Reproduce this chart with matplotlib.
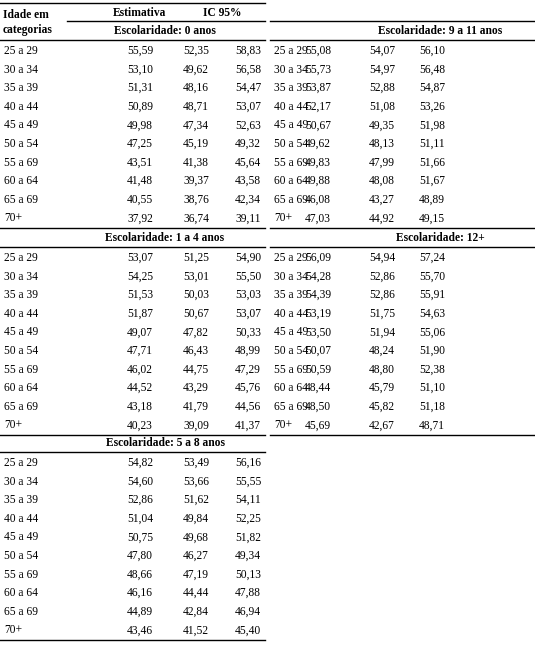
import matplotlib
matplotlib.use("Agg")
import matplotlib.pyplot as plt

idades = ["25 a 29", "30 a 34", "35 a 39", "40 a 44", "45 a 49",
          "50 a 54", "55 a 69", "60 a 64", "65 a 69", "70+"]

grupos = ["Escolaridade: 0 anos", "Escolaridade: 1 a 4 anos", "Escolaridade: 5 a 8 anos",
          "Escolaridade: 9 a 11 anos", "Escolaridade: 12+"]

est = [
    ["55,59", "53,10", "51,31", "50,89", "49,98", "47,25", "43,51", "41,48", "40,55", "37,92"],
    ["53,07", "54,25", "51,53", "51,87", "49,07", "47,71", "46,02", "44,52", "43,18", "40,23"],
    ["54,82", "54,60", "52,86", "51,04", "50,75", "47,80", "48,66", "46,16", "44,89", "43,46"],
    ["55,08", "55,73", "53,87", "52,17", "50,67", "49,62", "49,83", "49,88", "46,08", "47,03"],
    ["56,09", "54,28", "54,39", "53,19", "53,50", "50,07", "50,59", "48,44", "48,50", "45,69"],
]
ic_inf = [
    ["52,35", "49,62", "48,16", "48,71", "47,34", "45,19", "41,38", "39,37", "38,76", "36,74"],
    ["51,25", "53,01", "50,03", "50,67", "47,82", "46,43", "44,75", "43,29", "41,79", "39,09"],
    ["53,49", "53,66", "51,62", "49,84", "49,68", "46,27", "47,19", "44,44", "42,84", "41,52"],
    ["54,07", "54,97", "52,88", "51,08", "49,35", "48,13", "47,99", "48,08", "43,27", "44,92"],
    ["54,94", "52,86", "52,86", "51,75", "51,94", "48,24", "48,80", "45,79", "45,82", "42,67"],
]
ic_sup = [
    ["58,83", "56,58", "54,47", "53,07", "52,63", "49,32", "45,64", "43,58", "42,34", "39,11"],
    ["54,90", "55,50", "53,03", "53,07", "50,33", "48,99", "47,29", "45,76", "44,56", "41,37"],
    ["56,16", "55,55", "54,11", "52,25", "51,82", "49,34", "50,13", "47,88", "46,94", "45,40"],
    ["56,10", "56,48", "54,87", "53,26", "51,98", "51,11", "51,66", "51,67", "48,89", "49,15"],
    ["57,24", "55,70", "55,91", "54,63", "55,06", "51,90", "52,38", "51,10", "51,18", "48,71"],
]

# (x offset, y of section title, column centers) for each group
colunas_esq = (140, 196, 248)
colunas_dir = (318, 382, 432)
posicoes = [(0, 31, colunas_esq), (0, 238, colunas_esq), (0, 443, colunas_esq),
            (270, 31, colunas_dir), (270, 238, colunas_dir)]

plt.rcParams['font.family'] = ['Liberation Serif', 'DejaVu Serif']
fig = plt.figure(figsize=(5.35, 6.49), dpi=100)
ax = fig.add_axes([0, 0, 1, 1])
ax.set_xlim(0, 535)
ax.set_ylim(649, 0)
ax.axis("off")

fs = 8.3
lw = 1.0
passo = 18.6

# cabeçalho
ax.plot([0, 265], [3, 3], color="black", lw=lw)
ax.text(3, 15, "Idade em", fontsize=fs, fontweight="bold", va="center")
ax.text(3, 30, "categorias", fontsize=fs, fontweight="bold", va="center")
ax.text(140, 13, "Estimativa", fontsize=fs, fontweight="bold", ha="center", va="center")
ax.text(222, 13, "IC 95%", fontsize=fs, fontweight="bold", ha="center", va="center")
ax.plot([67, 265], [21, 21], color="black", lw=lw)
ax.plot([270, 535], [21, 21], color="black", lw=lw)

for g, (x0, yt, cols) in enumerate(posicoes):
    centro = 165 if x0 == 0 else 440
    ax.text(centro, yt, grupos[g], fontsize=fs, fontweight="bold", ha="center", va="center")
    ax.plot([x0, x0 + 265], [yt + 9, yt + 9], color="black", lw=lw)
    y0 = yt + 20
    for i, idade in enumerate(idades):
        y = y0 + i * passo
        ax.text(x0 + 4, y, idade, fontsize=fs, va="center")
        ax.text(cols[0], y, est[g][i], fontsize=fs, ha="center", va="center")
        ax.text(cols[1], y, ic_inf[g][i], fontsize=fs, ha="center", va="center")
        ax.text(cols[2], y, ic_sup[g][i], fontsize=fs, ha="center", va="center")
    yb = y0 + 9 * passo + 9.5
    ax.plot([x0, x0 + 265], [yb, yb], color="black", lw=lw)

fig.savefig("out.png", dpi=100, facecolor="white")
